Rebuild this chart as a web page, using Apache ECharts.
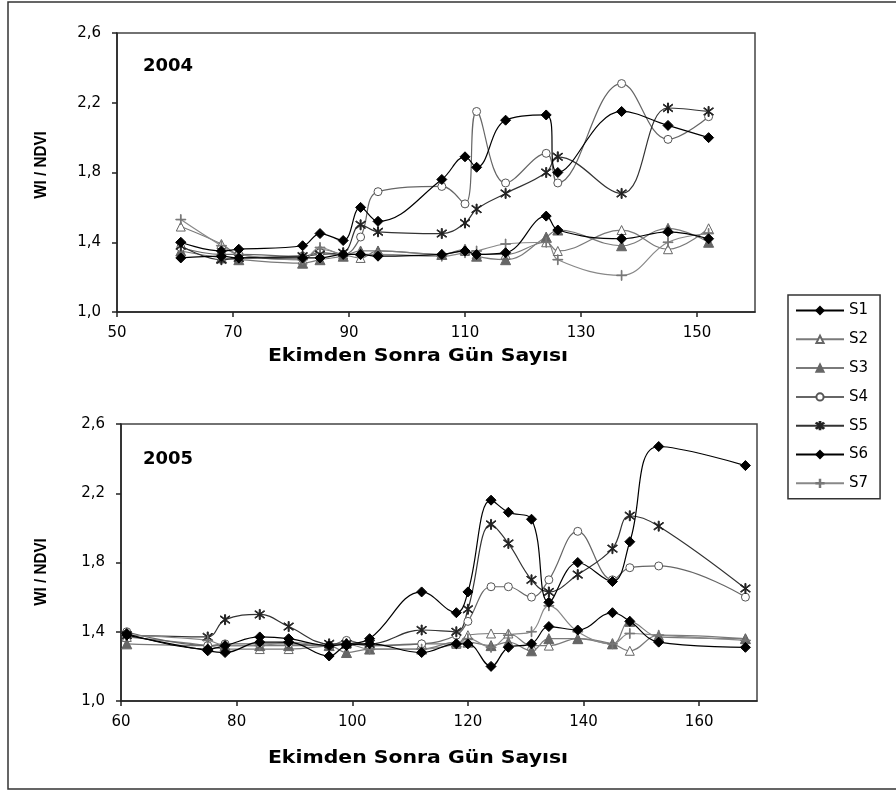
<!DOCTYPE html>
<html>
<head>
<meta charset="utf-8">
<script src="https://cdn.jsdelivr.net/npm/echarts@6/dist/echarts.min.js"></script>
<style>html,body{margin:0;padding:0;background:#fff;}#c{width:896px;height:791px;}</style>
</head>
<body>
<div id="c"></div>
<script>
// ---------- data ----------
var seriesNames = ['S1','S2','S3','S4','S5','S6','S7'];

var days2004 = [61,68,71,82,85,89,92,95,106,110,112,117,124,126,137,145,152];
var S1_2004 = [1.31,1.32,1.31,1.31,1.31,1.33,1.33,1.32,1.33,1.35,1.33,1.34,1.55,1.47,1.42,1.46,1.42];
var S2_2004 = [1.49,1.39,1.33,1.30,1.36,1.33,1.31,1.35,1.33,1.35,1.33,1.33,1.40,1.35,1.47,1.36,1.48];
var S3_2004 = [1.35,1.31,1.30,1.28,1.30,1.32,1.35,1.35,1.33,1.36,1.32,1.30,1.43,1.47,1.38,1.48,1.40];
var S4_2004 = [1.37,1.33,1.33,1.32,1.34,1.33,1.43,1.69,1.72,1.62,2.15,1.74,1.91,1.74,2.31,1.99,2.12];
var S5_2004 = [1.38,1.30,1.31,1.32,1.33,1.34,1.50,1.46,1.45,1.51,1.59,1.68,1.80,1.89,1.68,2.17,2.15];
var S6_2004 = [1.40,1.35,1.36,1.38,1.45,1.41,1.60,1.52,1.76,1.89,1.83,2.10,2.13,1.80,2.15,2.07,2.00];
var S7_2004 = [1.53,1.38,1.33,1.30,1.37,1.33,1.33,1.33,1.32,1.34,1.35,1.39,1.40,1.30,1.21,1.40,1.45];

var days2005 = [61,75,78,84,89,96,99,103,112,118,120,124,127,131,134,139,145,148,153,168];
var S1_2005 = [1.38,1.29,1.28,1.34,1.34,1.26,1.32,1.33,1.28,1.33,1.33,1.20,1.31,1.33,1.43,1.41,1.51,1.46,1.34,1.31];
var S2_2005 = [1.37,1.32,1.30,1.30,1.30,1.32,1.33,1.32,1.33,1.33,1.38,1.39,1.39,1.32,1.32,1.36,1.33,1.29,1.38,1.36];
var S3_2005 = [1.33,1.32,1.32,1.32,1.32,1.32,1.28,1.30,1.30,1.34,1.34,1.32,1.34,1.29,1.36,1.36,1.33,1.46,1.37,1.36];
var S4_2005 = [1.40,1.32,1.33,1.33,1.33,1.32,1.35,1.32,1.33,1.38,1.46,1.66,1.66,1.60,1.70,1.98,1.70,1.77,1.78,1.60];
var S5_2005 = [1.38,1.37,1.47,1.50,1.43,1.33,1.33,1.33,1.41,1.40,1.53,2.02,1.91,1.70,1.63,1.73,1.88,2.07,2.01,1.65];
var S6_2005 = [1.39,1.30,1.32,1.37,1.36,1.32,1.33,1.36,1.63,1.51,1.63,2.16,2.09,2.05,1.57,1.80,1.69,1.92,2.47,2.36];
var S7_2005 = [1.38,1.35,1.32,1.32,1.34,1.32,1.33,1.30,1.30,1.33,1.36,1.31,1.38,1.40,1.55,1.40,1.33,1.39,1.38,1.35];

var yTicks = [1.0,1.4,1.8,2.2,2.6];
var xTicks2004 = [50,70,90,110,130,150];
var xTicks2005 = [60,80,100,120,140,160];

var yTitle = 'WI / NDVI';
var xTitle = 'Ekimden Sonra Gün Sayısı';
var panelLabels = ['2004','2005'];

// ---------- styles ----------
var ASTER = 'path://M9.2,0 L10.8,0 L10.8,20 L9.2,20 Z M2.4,3.5 L3.5,2.4 L17.6,16.5 L16.5,17.6 Z M16.5,2.4 L17.6,3.5 L3.5,17.6 L2.4,16.5 Z';
var PLUS = 'path://M9.3,0 L10.7,0 L10.7,20 L9.3,20 Z M0,9.3 L20,9.3 L20,10.7 L0,10.7 Z';
var styles = {
  S1:{line:'#000', symbol:'diamond', size:10, fill:'#000', border:'#000'},
  S2:{line:'#7a7a7a', symbol:'triangle', size:9, fill:'#fff', border:'#666'},
  S3:{line:'#7a7a7a', symbol:'triangle', size:10, fill:'#666', border:'#666'},
  S4:{line:'#666', symbol:'circle', size:8, fill:'#fff', border:'#555'},
  S5:{line:'#333', symbol:ASTER, size:10, fill:'#222', border:'#222'},
  S6:{line:'#000', symbol:'diamond', size:10, fill:'#000', border:'#000'},
  S7:{line:'#888', symbol:PLUS, size:10, fill:'#777', border:'#777'}
};

var data2004 = {S1:S1_2004,S2:S2_2004,S3:S3_2004,S4:S4_2004,S5:S5_2004,S6:S6_2004,S7:S7_2004};
var data2005 = {S1:S1_2005,S2:S2_2005,S3:S3_2005,S4:S4_2005,S5:S5_2005,S6:S6_2005,S7:S7_2005};

function pairs(xs, ys){ return xs.map(function(x,i){ return [x, ys[i]]; }); }

var FONT = 'DejaVu Sans';
function mkSeries(name, xs, ys, gi){
  var s = styles[name];
  return {
    name:name, type:'line', xAxisIndex:gi, yAxisIndex:gi,
    data:pairs(xs, ys), smooth:0.4, showAllSymbol:true,
    symbol:s.symbol, symbolSize:s.size,
    lineStyle:{color:s.line, width:1.2},
    itemStyle:{color:s.fill, borderColor:s.border, borderWidth:1},
    emphasis:{disabled:true}, z: (name==='S1'||name==='S6') ? 4 : 3
  };
}
var series = [];
seriesNames.forEach(function(n){ series.push(mkSeries(n, days2004, data2004[n], 0)); });
seriesNames.forEach(function(n){ series.push(mkSeries(n, days2005, data2005[n], 1)); });

function xAxis(gi, min, max, ticks){
  return {
    gridIndex:gi, type:'value', min:min, max:max,
    axisLine:{show:true, onZero:false, lineStyle:{color:'#222', width:1.5}},
    axisTick:{show:true, length:5, inside:false, customValues:ticks, lineStyle:{color:'#222', width:1.5}},
    axisLabel:{customValues:ticks, color:'#000', fontSize:15, fontFamily:FONT, margin:14},
    splitLine:{show:false}
  };
}
function yAxis(gi){
  return {
    gridIndex:gi, type:'value', min:1.0, max:2.6,
    axisLine:{show:true, onZero:false, lineStyle:{color:'#222', width:1.5}},
    axisTick:{show:true, length:5, customValues:yTicks, lineStyle:{color:'#222', width:1.5}},
    axisLabel:{customValues:yTicks, color:'#000', fontSize:15, fontFamily:FONT, margin:16,
      formatter:function(v){ return v.toFixed(1).replace('.', ','); }},
    splitLine:{show:false}
  };
}

function txt(text, x, y, size, opts){
  opts = opts || {};
  return {
    type:'text', x:x, y:y, rotation:opts.rotation||0, scaleX:opts.scaleX||1, scaleY:opts.scaleY||1,
    z:10,
    style:{text:text, fill:'#000', font:'bold '+size+'px "'+(opts.family||FONT)+'"',
      textAlign:'center', textVerticalAlign:'middle', align:'center', verticalAlign:'middle'}
  };
}

var chart = echarts.init(document.getElementById('c'), null, {renderer:'canvas'});
chart.setOption({
  animation:false,
  backgroundColor:'#fff',
  grid:[
    {left:117, top:33, width:638, height:279, show:true, borderColor:'#444', borderWidth:1.5, backgroundColor:'transparent'},
    {left:121, top:424, width:636, height:277, show:true, borderColor:'#444', borderWidth:1.5, backgroundColor:'transparent'}
  ],
  xAxis:[xAxis(0, 50, 160, xTicks2004), xAxis(1, 60, 170, xTicks2005)],
  yAxis:[yAxis(0), yAxis(1)],
  legend:{
    data:seriesNames, orient:'vertical', left:788, top:295,
    itemWidth:48, itemHeight:9, itemGap:13.8,
    padding:[8,12,8,7], borderColor:'#333', borderWidth:1.5,
    textStyle:{fontFamily:FONT, fontSize:15, color:'#000'},
    selectedMode:false
  },
  graphic:[
    {type:'rect', shape:{x:8, y:2, width:900, height:787}, style:{fill:'none', stroke:'#333', lineWidth:1.5}, z:0},
    txt(panelLabels[0], 168, 66, 18),
    txt(panelLabels[1], 168, 459, 18),
    txt(yTitle, 42, 165, 16, {rotation:Math.PI/2, family:'Liberation Sans', scaleX:0.95}),
    txt(yTitle, 42, 572, 16, {rotation:Math.PI/2, family:'Liberation Sans', scaleX:0.95}),
    txt(xTitle, 418, 357, 17, {scaleX:1.2}),
    txt(xTitle, 418, 759, 17, {scaleX:1.2})
  ],
  series:series
});
</script>
</body>
</html>
